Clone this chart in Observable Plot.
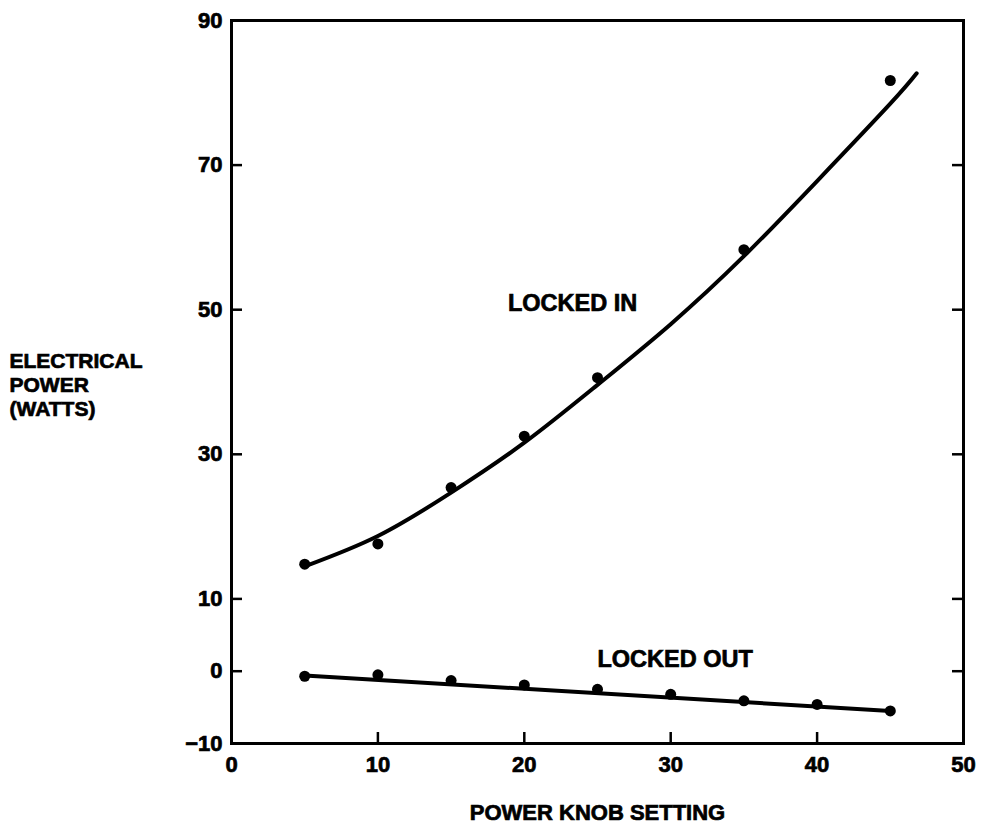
<!DOCTYPE html>
<html><head><meta charset="utf-8">
<script src="https://cdn.jsdelivr.net/npm/d3@7"></script>
<script src="https://cdn.jsdelivr.net/npm/@observablehq/plot@0.6"></script>
<style>
html,body{margin:0;padding:0;background:#fff;}
svg text{stroke:black;stroke-width:0.7px;paint-order:stroke;}
</style>
</head><body><div id="chart"></div>
<script>
// ---- data ----
const knobIn = [5, 10, 15, 20, 25, 35, 45];
const powerIn = [14.8, 17.6, 25.4, 32.5, 40.6, 58.3, 81.7];
const fitInX = [5, 10, 15, 20, 25, 30, 35, 40, 45, 46.8];
const fitInY = [14.5, 18.7, 24.7, 31.6, 39.6, 48.0, 57.4, 67.8, 78.5, 82.7];
const knobOut = [5, 10, 15, 20, 25, 30, 35, 40, 45];
const powerOut = [-0.7, -0.5, -1.3, -1.9, -2.5, -3.2, -4.1, -4.6, -5.5];
const fitOutX = [5, 45];
const fitOutY = [-0.6, -5.5];
const yTickLabels = [90, 70, 50, 30, 10, 0, -10];
const yInnerTicks = [70, 50, 30, 10, 0];
const xTickLabels = [0, 10, 20, 30, 40, 50];
const xInnerTicks = [10, 20, 30, 40];
const seriesLabels = ["LOCKED IN", "LOCKED OUT"];
const seriesLabelX = [23.3, 30.3];
const seriesLabelY = [50.8, 1.6];
const yTitle = "ELECTRICAL\nPOWER\n(WATTS)";
const xTitle = "POWER KNOB SETTING";

// ---- layout ----
const W = 983, H = 831, ML = 231, MR = 20, MT = 20, MB = 88;
const frameW = W - ML - MR, frameH = H - MT - MB, tickLen = 11;

const zip = (xs, ys) => xs.map((x, i) => ({x, y: ys[i]}));
const labels = seriesLabels.map((t, i) => ({t, x: seriesLabelX[i], y: seriesLabelY[i]}));

const chart = Plot.plot({
  width: W, height: H,
  marginLeft: ML, marginRight: MR, marginTop: MT, marginBottom: MB,
  x: {domain: [0, 50]},
  y: {domain: [-10, 90]},
  style: {fontFamily: "'Liberation Sans', Arial, sans-serif", fontSize: "22px", fontWeight: "bold", color: "black", background: "white"},
  marks: [
    Plot.frame({stroke: "black", strokeWidth: 3}),
    Plot.tickY(yInnerTicks, {y: d => d, insetRight: frameW - tickLen, stroke: "black", strokeWidth: 2.5}),
    Plot.tickY(yInnerTicks, {y: d => d, insetLeft: frameW - tickLen, stroke: "black", strokeWidth: 2.5}),
    Plot.tickX(xInnerTicks, {x: d => d, insetTop: frameH - tickLen, stroke: "black", strokeWidth: 2.5}),
    Plot.axisY(yTickLabels, {tickSize: 0, tickPadding: 9, label: null, fontSize: 22, fontWeight: "bold", fill: "black"}),
    Plot.axisX(xTickLabels, {tickSize: 0, tickPadding: 13, label: null, fontSize: 22, fontWeight: "bold", fill: "black"}),
    Plot.line(zip(fitInX, fitInY), {x: "x", y: "y", curve: "natural", stroke: "black", strokeWidth: 4}),
    Plot.line(zip(fitOutX, fitOutY), {x: "x", y: "y", stroke: "black", strokeWidth: 4}),
    Plot.dot(zip(knobIn, powerIn), {x: "x", y: "y", r: 5.5, fill: "black"}),
    Plot.dot(zip(knobOut, powerOut), {x: "x", y: "y", r: 5.5, fill: "black"}),
    Plot.text(labels, {x: "x", y: "y", text: "t", fontSize: 23.5, fontWeight: "bold", fill: "black"}),
    Plot.text([yTitle], {text: d => d, frameAnchor: "top-left", dx: -(ML - 9), dy: 330, textAnchor: "start", lineAnchor: "top", lineHeight: 1.15, fontSize: 21, fontWeight: "bold", fill: "black"}),
    Plot.text([xTitle], {text: d => d, frameAnchor: "bottom", dy: 69, lineAnchor: "middle", fontSize: 22, fontWeight: "bold", fill: "black"})
  ]
});
document.getElementById("chart").appendChild(chart);
</script>
</body></html>
